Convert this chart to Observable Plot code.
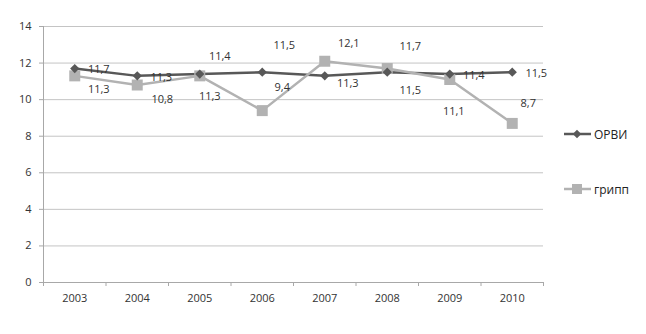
<!DOCTYPE html>
<html><head><meta charset="utf-8">
<script src="https://cdn.jsdelivr.net/npm/d3@7"></script>
<script src="https://cdn.jsdelivr.net/npm/@observablehq/plot@0.6"></script>
<style>
body{margin:0;background:#fff;}
#wrap{position:relative;width:646px;height:334px;font-family:"Open Sans",sans-serif;}
.leg{position:absolute;left:564px;display:flex;align-items:center;font-size:12px;color:#222;height:16px;}
.leg svg{display:block;margin-right:2px;}
</style></head><body><div id="wrap"></div>
<script>
const years = ["2003","2004","2005","2006","2007","2008","2009","2010"];
const orvi = [11.7, 11.3, 11.4, 11.5, 11.3, 11.5, 11.4, 11.5];
const gripp = [11.3, 10.8, 11.3, 9.4, 12.1, 11.7, 11.1, 8.7];
const yTicks = [0, 2, 4, 6, 8, 10, 12, 14];
const seriesNames = ["ОРВИ", "грипп"];

// label offsets (style only): [dx, dy] per point
const orviLabelOffsets = [[24,1],[24,2],[20,-18],[22,-27],[23,8],[23,18],[24,1.5],[24,1]];
const grippLabelOffsets = [[24,14],[25,14],[10,21],[20,-23],[24,-18],[23,-22],[4,32],[16,-20]];

const colors = {"ОРВИ": "#585858", "грипп": "#b2b2b2"};
const fmt = v => String(v).replace(".", ",");

const orviRows = years.map((y, i) => ({year: +y, value: orvi[i], series: seriesNames[0]}));
const grippRows = years.map((y, i) => ({year: +y, value: gripp[i], series: seriesNames[1]}));
const yearNums = years.map(Number);
const boundaries = yearNums.map(y => y - 0.5).concat([yearNums[yearNums.length - 1] + 0.5]);

const labelMarks = [];
orviRows.forEach((r, i) => labelMarks.push(Plot.text([r], {x: "year", y: "value", text: d => fmt(d.value), dx: orviLabelOffsets[i][0], dy: orviLabelOffsets[i][1], fill: "#333", fontSize: 11})));
grippRows.forEach((r, i) => labelMarks.push(Plot.text([r], {x: "year", y: "value", text: d => fmt(d.value), dx: grippLabelOffsets[i][0], dy: grippLabelOffsets[i][1], fill: "#333", fontSize: 11})));

const chart = Plot.plot({
  width: 646, height: 334,
  marginLeft: 43, marginRight: 103, marginTop: 26, marginBottom: 52,
  style: {fontFamily: "Open Sans, sans-serif", fontSize: "11px", color: "#333", background: "#fff"},
  x: {domain: [boundaries[0], boundaries[boundaries.length - 1]], axis: null},
  y: {domain: [0, 14], axis: null},
  marks: [
    Plot.gridY(yTicks, {stroke: "#c4c4c4", strokeOpacity: 1, strokeWidth: 1}),
    Plot.axisY(yTicks, {tickSize: 4, tickPadding: 8, stroke: "#a8a8a8", fill: "#333", fontSize: 11, label: null}),
    Plot.axisX(boundaries, {tickSize: 4, tickFormat: () => "", stroke: "#a8a8a8", label: null}),
    Plot.axisX(yearNums, {tickSize: 0, tickPadding: 12, tickFormat: d => String(d), fill: "#333", fontSize: 11, label: null}),
    Plot.ruleX([boundaries[0]], {stroke: "#a8a8a8"}),
    Plot.ruleY([0], {stroke: "#a8a8a8"}),
    Plot.line(orviRows, {x: "year", y: "value", stroke: colors["ОРВИ"], strokeWidth: 2.5}),
    Plot.line(grippRows, {x: "year", y: "value", stroke: colors["грипп"], strokeWidth: 2.5}),
    Plot.dot(grippRows, {x: "year", y: "value", symbol: "square", r: 6.2, fill: colors["грипп"], stroke: "none"}),
    Plot.dot(orviRows, {x: "year", y: "value", symbol: "square", rotate: 45, r: 3.7, fill: colors["ОРВИ"], stroke: "none"}),
    ...labelMarks
  ]
});
const wrap = document.getElementById("wrap");
wrap.appendChild(chart);

function legendItem(name, top, diamond) {
  const div = document.createElement("div");
  div.className = "leg";
  div.style.top = (top - 8) + "px";
  const c = colors[name];
  const marker = diamond
    ? `<rect x="10" y="4" width="6" height="6" fill="${c}" transform="rotate(45 13 7)"/>`
    : `<rect x="8" y="2" width="10" height="10" fill="${c}"/>`;
  div.innerHTML = `<svg width="28" height="14"><line x1="0" x2="27" y1="7" y2="7" stroke="${c}" stroke-width="2.5"/>${marker}</svg><span>${name}</span>`;
  wrap.appendChild(div);
}
legendItem(seriesNames[0], 134, true);
legendItem(seriesNames[1], 189, false);
</script></body></html>
